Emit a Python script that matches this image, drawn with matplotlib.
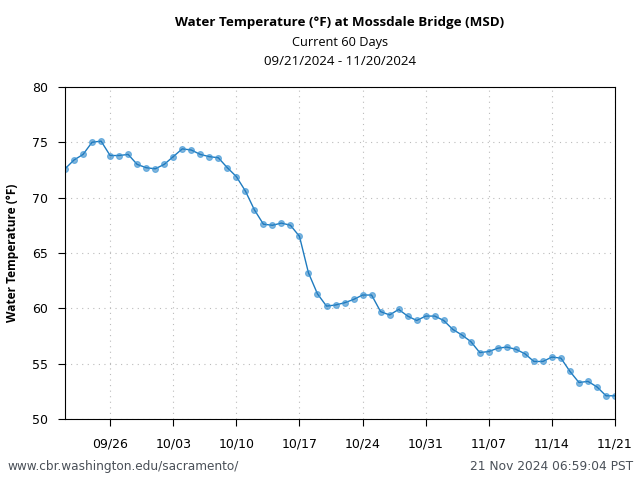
import matplotlib
matplotlib.use('Agg')
import matplotlib.pyplot as plt
import matplotlib.dates as mdates
import numpy as np
import pandas as pd

# daily water temperature, 09/21/2024 .. 11/21/2024
dates = pd.date_range('2024-09-21', '2024-11-21', freq='D')
temps = [72.6, 73.4, 73.9, 75.0, 75.1, 73.8, 73.8, 73.9, 73.0, 72.7,
         72.6, 73.0, 73.7, 74.4, 74.3, 73.9, 73.7, 73.6, 72.7, 71.9,
         70.6, 68.9, 67.6, 67.5, 67.7, 67.5, 66.5, 63.2, 61.3, 60.2,
         60.3, 60.5, 60.8, 61.2, 61.2, 59.7, 59.4, 59.9, 59.3, 58.9,
         59.3, 59.3, 58.9, 58.1, 57.6, 57.0, 56.0, 56.1, 56.4, 56.5,
         56.3, 55.9, 55.2, 55.2, 55.6, 55.5, 54.3, 53.3, 53.4, 52.9,
         52.1, 52.1]
week_ticks = pd.date_range('2024-09-26', '2024-11-21', freq='7D')

title = 'Water Temperature (°F) at Mossdale Bridge (MSD)'
subtitle = 'Current 60 Days'
period = '09/21/2024 - 11/20/2024'
ylabel = 'Water Temperature (°F)'
footer_left = 'www.cbr.washington.edu/sacramento/'
footer_right = '21 Nov 2024 06:59:04 PST'

line_col = '#1f7bbf'

fig = plt.figure(figsize=(6.4, 4.8), dpi=100)
ax = fig.add_axes([0.1016, 0.127, 0.8594, 0.692])

ax.plot(dates, temps, color=line_col, lw=1.0, marker='o', ms=4.2,
        mfc=(0.12, 0.48, 0.75, 0.55), mec=(0.25, 0.6, 0.85, 0.7), mew=0.8)

ax.set_xlim(pd.Timestamp('2024-09-21'), pd.Timestamp('2024-11-21'))
ax.set_ylim(50, 80)
ax.set_yticks(np.arange(50, 81, 5))
ax.set_xticks(week_ticks)
ax.xaxis.set_major_formatter(mdates.DateFormatter('%m/%d'))
ax.tick_params(direction='out', length=5, labelsize=9, pad=8, axis='x')
ax.tick_params(direction='out', length=5, labelsize=9, pad=7, axis='y')
ax.grid(True, ls=(0, (1, 4)), color='#bbbbbb', lw=0.8)

# y label sits at the far left, centred on the plot area
fig.text(0.019, 0.473, ylabel, ha='center', va='center', rotation=90,
         fontsize=8.6, fontweight='bold', family='Open Sans')

fig.text(0.531, 0.953, title, ha='center', va='center', fontsize=9.6,
         fontweight='bold', family='Open Sans')
fig.text(0.531, 0.911, subtitle, ha='center', va='center', fontsize=9.2,
         family='Open Sans')
fig.text(0.531, 0.871, period, ha='center', va='center', fontsize=9.6,
         family='Open Sans')
fig.text(0.012, 0.029, footer_left, ha='left', va='center', fontsize=8.7,
         color='#4a5058')
fig.text(0.99, 0.029, footer_right, ha='right', va='center', fontsize=8.8,
         color='#4a5058')

fig.savefig('out.png', dpi=100)
